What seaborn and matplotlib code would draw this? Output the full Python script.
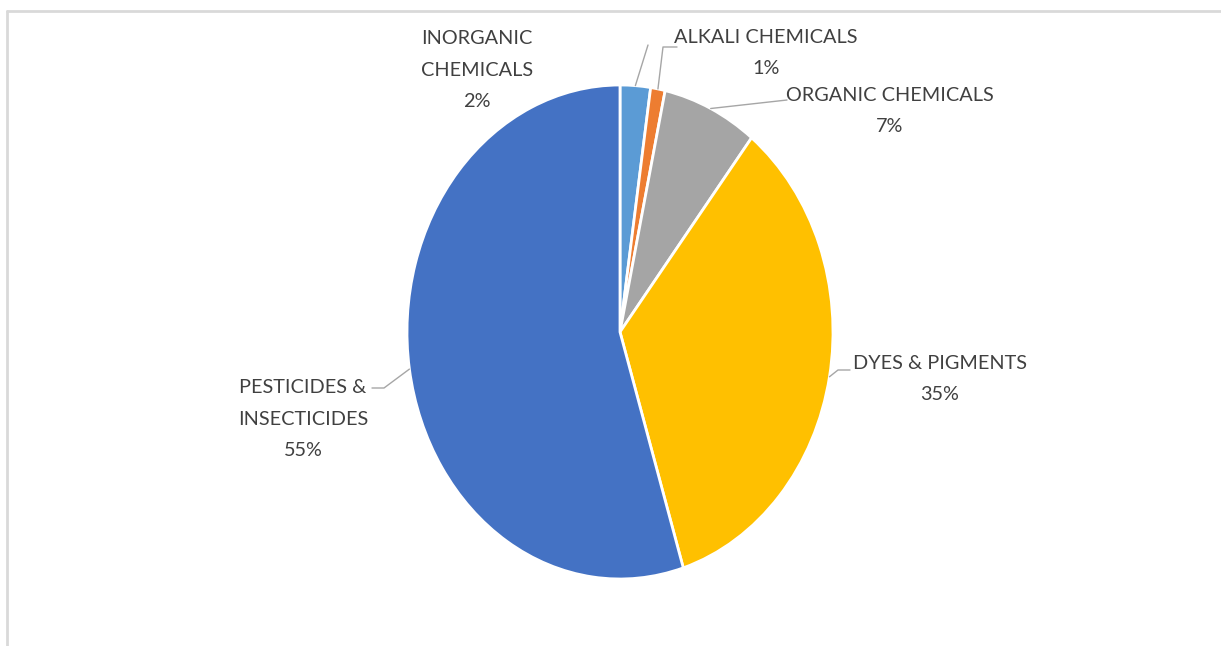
import numpy as np
import matplotlib.pyplot as plt
import seaborn as sns
from matplotlib.lines import Line2D

# chart data
categories = ["INORGANIC\nCHEMICALS", "ALKALI CHEMICALS", "ORGANIC CHEMICALS",
              "DYES & PIGMENTS", "PESTICIDES &\nINSECTICIDES"]
shares = [2.3, 1.1, 7.2, 34.6, 54.8]
colors = ["#5B9BD5", "#ED7D31", "#A5A5A5", "#FFC000", "#4472C4"]

sns.set_theme(style="white")
plt.rcParams['font.family'] = ['Lato', 'DejaVu Sans']

W, H = 1221, 646
fig = plt.figure(figsize=(W / 100, H / 100), dpi=100)
ax = fig.add_axes([0, 0, 1, 1])

# pie centre / radii in pixels (the original is stretched vertically)
cx, cy, rx, ry = 620, 332, 213, 247

wedges, _ = ax.pie(shares, colors=colors, startangle=90, counterclock=False,
                   radius=1, wedgeprops=dict(edgecolor="white", linewidth=2))
ax.set_aspect('auto')
ax.set_xlim(-cx / rx, (W - cx) / rx)
ax.set_ylim(-(H - cy) / ry, cy / ry)
ax.axis('off')


def px(x, y):
    return (x - cx) / rx, (cy - y) / ry


# label positions (pixel coords of text centre) and leader elbow/end points
label_pos = [(477, 70), (766, 53), (890, 111), (940, 379), (303, 419)]
leader_end = [[(648, 45)], [(663, 47), (677, 47)], [(787, 100)],
              [(838, 370), (850, 370)], [(384, 388), (372, 388)]]

for w, cat, val, (lx, ly), ends in zip(wedges, categories, shares, label_pos, leader_end):
    mid = np.deg2rad((w.theta1 + w.theta2) / 2)
    sx, sy = np.cos(mid), np.sin(mid)
    pts = [(sx, sy)] + [px(*p) for p in ends]
    ax.plot([p[0] for p in pts], [p[1] for p in pts], color="#a6a6a6", lw=1)
    tx, ty = px(lx, ly)
    ax.text(tx, ty, f"{cat}\n{round(val):.0f}%", ha='center', va='center',
            fontsize=14.3, color="#404040", linespacing=2.05)

# light frame along top and left
fig.add_artist(Line2D([7 / W, 7 / W], [0, 1 - 11 / H], color="#d9d9d9", lw=2))
fig.add_artist(Line2D([7 / W, 1], [1 - 11 / H, 1 - 11 / H], color="#d9d9d9", lw=2))

fig.savefig("out.png", dpi=100)
